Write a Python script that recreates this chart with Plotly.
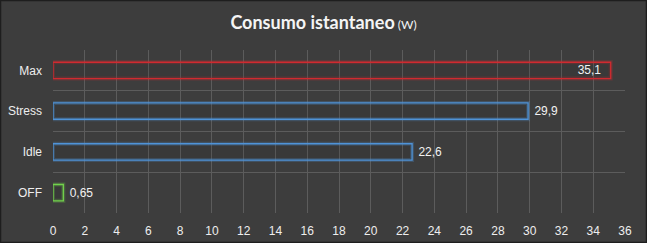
import plotly.graph_objects as go

categories = ["Max", "Stress", "Idle", "OFF"]
values = [35.1, 29.9, 22.6, 0.65]
line_colors = ["#d02a30", "#4f93d8", "#4f93d8", "#72d24c"]
glow_colors = ["rgba(208,42,48,0.25)", "rgba(79,147,216,0.25)", "rgba(79,147,216,0.25)", "rgba(114,210,76,0.25)"]
text_pos = ["inside", "outside", "outside", "outside"]

BG = "#3d3d3d"
GRID = "#5c5c5c"
W, H = 647, 243
ml, mr, mt, mb = 53, 22, 50, 30
NB = "\u00a0"

fig = go.Figure()
# glow
fig.add_trace(go.Bar(
    y=categories, x=values, orientation="h", width=0.4,
    marker=dict(color="rgba(0,0,0,0)", line=dict(color=glow_colors, width=4)),
    hoverinfo="skip", showlegend=False,
))
fig.add_trace(go.Bar(
    y=categories, x=values, orientation="h", width=0.4,
    marker=dict(color="rgba(0,0,0,0.06)", line=dict(color=line_colors, width=1.3)),
    text=values,
    texttemplate=[f"%{{x}}{NB}{NB}", f"{NB}%{{x}}", f"{NB}%{{x}}", f"{NB}%{{x}}"],
    textposition=text_pos,
    insidetextanchor="end", cliponaxis=False, constraintext="none",
    textfont=dict(family="Liberation Sans, Arial", size=12, color="#f2f2f2"),
    insidetextfont=dict(family="Liberation Sans, Arial", size=12, color="#f2f2f2"),
    outsidetextfont=dict(family="Liberation Sans, Arial", size=12, color="#f2f2f2"),
    showlegend=False,
))

fig.update_layout(
    width=W, height=H,
    margin=dict(l=ml, r=mr, t=mt, b=mb, autoexpand=False),
    paper_bgcolor=BG, plot_bgcolor=BG,
    barmode="overlay",
    separators=",.",
    title=dict(
        text="<b>Consumo istantaneo</b><span style='font-size:12px'> (W)</span>",
        x=0.5, xanchor="center", y=0.905, yanchor="middle",
        font=dict(family="Lato, Open Sans, sans-serif", size=18, color="#f4f4f4"),
    ),
    xaxis=dict(
        range=[0, 36], dtick=2, tick0=0, automargin=False,
        showgrid=True, gridcolor=GRID, gridwidth=1,
        zeroline=False, showline=False,
        ticks="", ticklabelstandoff=9,
        tickfont=dict(family="Liberation Sans, Arial", size=12, color="#eeeeee"),
        fixedrange=True,
    ),
    yaxis=dict(
        type="category", categoryorder="array", categoryarray=categories[::-1],
        tickson="boundaries", showgrid=True, gridcolor=GRID, gridwidth=1,
        zeroline=False, showline=False, automargin=False,
        ticks="", ticklabelstandoff=10,
        tickfont=dict(family="Liberation Sans, Arial", size=12, color="#eeeeee"),
        fixedrange=True,
    ),
    shapes=[
        dict(type="rect", xref="paper", yref="paper",
             x0=-ml / (W - ml - mr) + 0.5 / (W - ml - mr),
             x1=1 + (mr - 0.5) / (W - ml - mr),
             y0=-(mb - 0.5) / (H - mt - mb),
             y1=1 + (mt - 0.5) / (H - mt - mb),
             line=dict(color="#1e1e1e", width=1.5), layer="above"),
    ],
)

fig.write_html("out.html")
